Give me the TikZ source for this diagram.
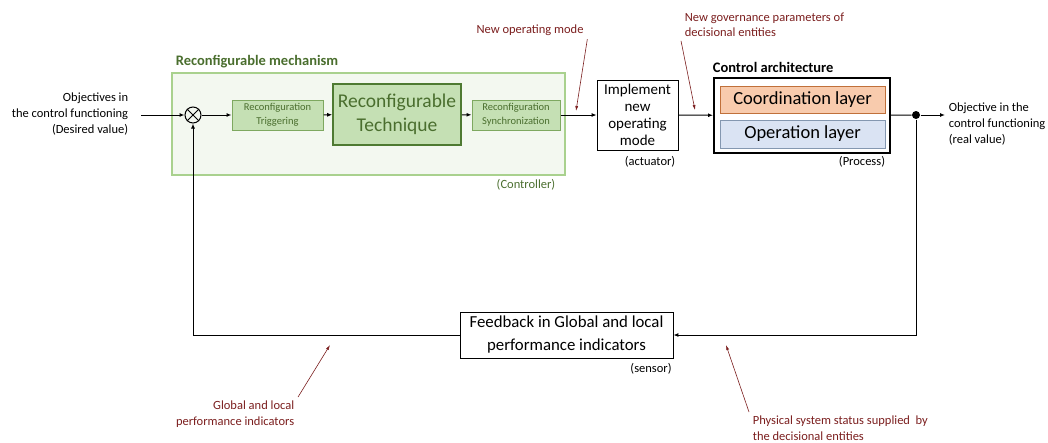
\documentclass[tikz,border=0pt]{standalone}
\usepackage{fontspec}
\setmainfont{Carlito}
\usetikzlibrary{shapes,arrows.meta,positioning,calc}

\definecolor{mechfill}{HTML}{F3F8F0}
\definecolor{mechline}{HTML}{A9D18E}
\definecolor{stepfill}{HTML}{C5E0B4}
\definecolor{stepline}{HTML}{7EA860}
\definecolor{techline}{HTML}{4E7A32}
\definecolor{greentext}{HTML}{4A6E2E}
\definecolor{notered}{HTML}{7B1E1E}
\definecolor{coordfill}{HTML}{F8CBAD}
\definecolor{coordline}{HTML}{C0703A}
\definecolor{opfill}{HTML}{DAE3F3}
\definecolor{opline}{HTML}{8497B0}

\tikzset{
  >={Latex[length=5pt,width=4pt]},
  stepbox/.style={draw=stepline, fill=stepfill, text=greentext, minimum width=90pt, minimum height=30pt, inner sep=1pt, align=center, font=\fontsize{10.5}{14}\selectfont},
  layerbox/.style={draw, minimum width=165pt, minimum height=27pt, inner sep=1pt, font=\fontsize{18.5}{20}\selectfont},
  note/.style={text=notered, font=\fontsize{12.5}{15.5}\selectfont},
  notearrow/.style={draw=notered, -{Latex[length=5pt,width=3pt]}},
  plain/.style={font=\fontsize{12.5}{15.7}\selectfont}
}

\begin{document}
\begin{tikzpicture}[x=1pt, y=-1pt, line width=1pt]
\useasboundingbox (0,0) rectangle (1048,442);

% controller
\node[draw=mechline, fill=mechfill, line width=1.2pt, minimum width=393pt, minimum height=102pt] (mech) at (368.5,124) {};
\node[anchor=west, text=greentext, font=\fontsize{14.5}{16}\selectfont\bfseries] (mechtitle) at (172,62) {Reconfigurable mechanism};
\node[text=greentext, plain] (ctrl) at (526,185) {(Controller)};

\node[draw, circle, minimum size=16pt, inner sep=0pt] (sum) at (193,115) {};
\draw (sum.north west) -- (sum.south east);
\draw (sum.north east) -- (sum.south west);

\node[stepbox, minimum width=91pt] (trig) at (277.5,115) {Reconfiguration\\Triggering};
\node[stepbox, draw=techline, line width=1.6pt, minimum width=128pt, minimum height=61pt, font=\fontsize{19.5}{24}\selectfont] (tech) at (397,114.5) {Reconfigurable\\Technique};
\node[stepbox, minimum width=88pt] (sync) at (516,115) {Reconfiguration\\Synchronization};

% actuator
\node[draw, line width=0.8pt, minimum width=81pt, minimum height=70pt, inner sep=1pt, align=center, font=\fontsize{15}{16.8}\selectfont] (impl) at (637.5,115) {Implement\\new\\operating\\mode};
\node[plain] (act) at (650,162) {(actuator)};

% process
\node[draw, line width=2pt, minimum width=176pt, minimum height=75pt] (arch) at (802,115.5) {};
\node[anchor=west, font=\fontsize{14.5}{16}\selectfont\bfseries] (archtitle) at (709,67) {Control architecture};
\node[layerbox, draw=coordline, fill=coordfill] (coord) at (802.5,99.5) {Coordination layer};
\node[layerbox, draw=opline, fill=opfill, minimum height=28pt] (oper) at (802.5,134) {Operation layer};
\node[plain] (proc) at (862,162) {(Process)};

\node[circle, fill, inner sep=0pt, minimum size=8pt] (dot) at (916,115) {};

% sensor
\node[draw, line width=0.8pt, minimum width=213pt, minimum height=46pt, inner sep=1pt, align=center, font=\fontsize{16.8}{23}\selectfont] (fb) at (566.5,335) {Feedback in Global and local\\performance indicators};
\node[plain] (sens) at (651,369) {(sensor)};

% inputs / outputs
\node[plain, align=right, anchor=east] (objin) at (132,114) {Objectives in\\the control functioning\\(Desired value)};
\node[plain, align=left, anchor=west] (objout) at (945,124) {Objective in the\\control functioning\\(real value)};

% connections
\draw[->] ([xshift=9pt]objin.east |- sum) -- (sum);
\draw[->] (sum) -- (trig);
\draw[->] (trig) -- (tech);
\draw[->] (tech) -- (sync);
\draw[->] (sync) -- (impl);
\draw[->] (impl) -- (arch);
\draw (arch) -- (dot);
\draw[->] (dot) -- (objout.west |- dot);
\draw[->] (dot) |- (fb);
\draw[->] (fb) -| (sum);

% annotations
\node[note] (newmode) at (530,30) {New operating mode};
\node[note, align=left, anchor=north west] (gov) at (681,9) {New governance parameters of\\decisional entities};
\node[note, align=right, anchor=east] (gli) at (298,414) {Global and local\\performance indicators};
\node[note, align=left, anchor=west] (phys) at (749,428) {Physical system status supplied \ by\\the decisional entities};

\coordinate (p1) at (576,111);
\coordinate (p2) at (695,110);
\coordinate (p3) at (330,345);
\coordinate (p4) at (726,345);
\draw[notearrow, line width=0.6pt] (newmode.south east) -- (p1);
\draw[notearrow, line width=0.6pt] (gov.south west) -- (p2);
\draw[notearrow, line width=0.6pt] (gli.north east) -- (p3);
\draw[notearrow, line width=0.6pt] (phys.north west) -- (p4);
\end{tikzpicture}
\end{document}
